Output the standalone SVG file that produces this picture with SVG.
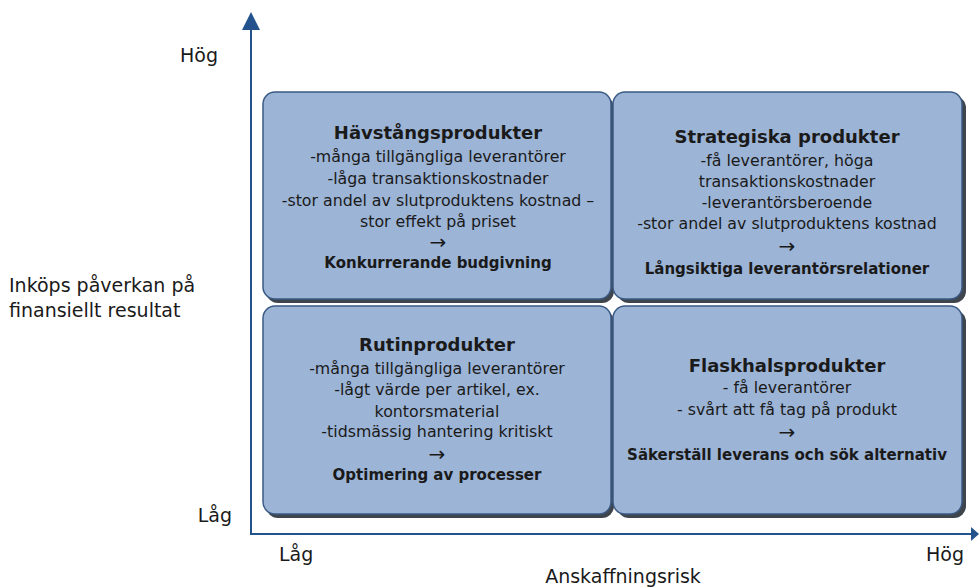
<svg xmlns="http://www.w3.org/2000/svg" width="979" height="587" viewBox="0 0 979 587">
<defs>
<style>
text{font-family:"DejaVu Sans","Liberation Sans",sans-serif;fill:#1a1a1a;}
.box{fill:#9cb4d6;stroke:#3a5a84;stroke-width:1.5;}
.sh{fill:#3e454d;}
.t{font-size:18px;font-weight:bold;text-anchor:middle;}
.b{font-size:15.8px;text-anchor:middle;}
.a{font-size:20px;text-anchor:middle;}
.s{font-size:15px;font-weight:bold;text-anchor:middle;}
.ax{font-size:19px;}
.axis{stroke:#24528c;stroke-width:2;fill:none;}
.head{fill:#24528c;}
</style>
</defs>
<g id="connectors">
<line class="axis" x1="251" y1="534" x2="251" y2="26"/>
<path class="head" d="M242,30 L251,12 L260,30 z"/>
<line class="axis" x1="250" y1="534" x2="974" y2="534"/>
<path class="head" d="M971,527 L979,534 L971,541 z"/>
</g>
<g id="node-havstang">
<rect class="sh" x="266" y="96" width="348" height="207" rx="12"/>
<rect class="box" x="263" y="92" width="348" height="207" rx="12"/>
<text class="t" x="438" y="139">Hävstångsprodukter</text>
<text class="b" x="438" y="162">-många tillgängliga leverantörer</text>
<text class="b" x="438" y="184">-låga transaktionskostnader</text>
<text class="b" x="438" y="206">-stor andel av slutproduktens kostnad –</text>
<text class="b" x="438" y="227">stor effekt på priset</text>
<text class="a" x="438" y="249">→</text>
<text class="s" x="438" y="268">Konkurrerande budgivning</text>
</g>
<g id="node-strategiska">
<rect class="sh" x="617" y="96" width="349" height="207" rx="12"/>
<rect class="box" x="613" y="92" width="349" height="207" rx="12"/>
<text class="t" x="787" y="143">Strategiska produkter</text>
<text class="b" x="787" y="166">-få leverantörer, höga</text>
<text class="b" x="787" y="187">transaktionskostnader</text>
<text class="b" x="787" y="208">-leverantörsberoende</text>
<text class="b" x="787" y="229">-stor andel av slutproduktens kostnad</text>
<text class="a" x="787" y="253">→</text>
<text class="s" x="787" y="274">Långsiktiga leverantörsrelationer</text>
</g>
<g id="node-rutin">
<rect class="sh" x="266" y="310" width="348" height="208" rx="12"/>
<rect class="box" x="263" y="306" width="348" height="208" rx="12"/>
<text class="t" x="437" y="351">Rutinprodukter</text>
<text class="b" x="437" y="374">-många tillgängliga leverantörer</text>
<text class="b" x="437" y="395">-lågt värde per artikel, ex.</text>
<text class="b" x="437" y="417">kontorsmaterial</text>
<text class="b" x="437" y="437">-tidsmässig hantering kritiskt</text>
<text class="a" x="437" y="461">→</text>
<text class="s" x="437" y="480">Optimering av processer</text>
</g>
<g id="node-flaskhals">
<rect class="sh" x="617" y="310" width="349" height="208" rx="12"/>
<rect class="box" x="613" y="306" width="349" height="208" rx="12"/>
<text class="t" x="787" y="372">Flaskhalsprodukter</text>
<text class="b" x="787" y="393">- få leverantörer</text>
<text class="b" x="787" y="415">- svårt att få tag på produkt</text>
<text class="a" x="787" y="439">→</text>
<text class="s" x="787" y="460">Säkerställ leverans och sök alternativ</text>
</g>
<g id="labels">
<text class="ax" x="218" y="62" text-anchor="end">Hög</text>
<text class="ax" x="9" y="292">Inköps påverkan på</text>
<text class="ax" x="9" y="317">finansiellt resultat</text>
<text class="ax" x="232" y="522" text-anchor="end">Låg</text>
<text class="ax" x="279" y="561">Låg</text>
<text class="ax" x="964" y="561" text-anchor="end">Hög</text>
<text class="ax" x="623" y="583" text-anchor="middle">Anskaffningsrisk</text>
</g>
</svg>
